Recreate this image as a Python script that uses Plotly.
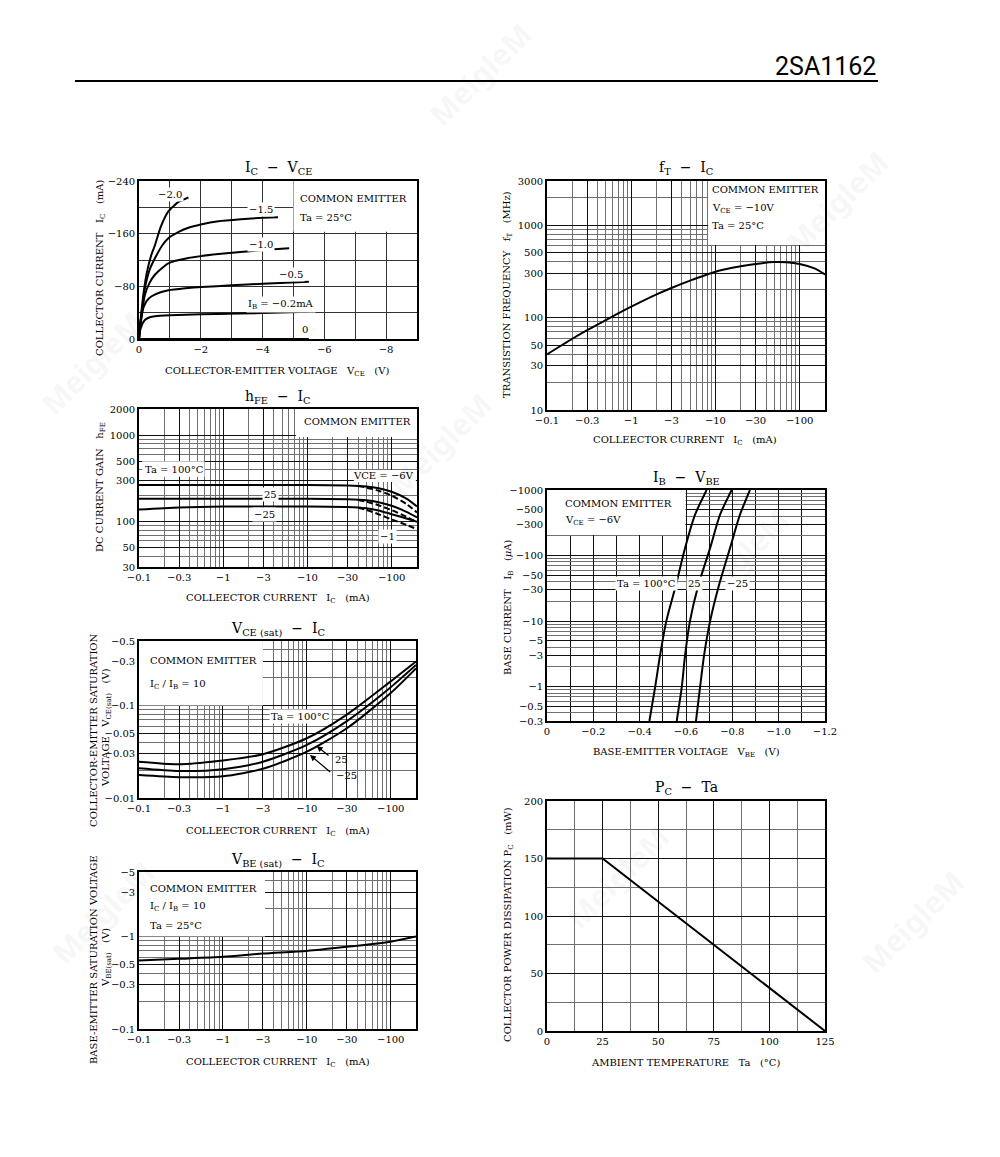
import numpy as np
import plotly.graph_objects as go

W, H = 1000, 1157
FONT = "DejaVu Serif"
NB = "\u00a0"

# ---------------- DATA ----------------
# IC - VCE (Ta = 25 C), parameter IB
vce_ib20 = [0, -0.03, -0.08, -0.14, -0.25, -0.4, -0.52, -0.7, -0.95, -1.27, -1.6]
ic_ib20 = [0, -20, -42, -67, -100, -128, -143, -170, -194, -208, -215]
vce_ib15 = [0, -0.03, -0.1, -0.19, -0.35, -0.52, -0.75, -0.95, -1.3, -1.6, -2.0, -2.57, -3.3, -4.0, -4.5]
ic_ib15 = [0, -18, -45, -77, -106, -123, -142, -153, -163, -169, -174, -179, -182, -184, -185]
vce_ib10 = [0, -0.03, -0.1, -0.19, -0.35, -0.52, -0.75, -0.95, -1.6, -2.57, -4.0, -4.86]
ic_ib10 = [0, -17, -42, -67, -86, -98, -108, -115, -123, -129, -135, -138]
vce_ib05 = [0, -0.03, -0.08, -0.14, -0.25, -0.41, -0.7, -0.95, -1.5, -2.03, -3, -4, -5.5]
ic_ib05 = [0, -15, -32, -47, -58, -65, -71, -74, -77, -79, -81.5, -84, -87]
vce_ib02 = [0, -0.03, -0.1, -0.19, -0.35, -0.52, -1.0, -1.5, -2.5, -4, -5.5]
ic_ib02 = [0, -12, -22, -29, -33, -34.5, -36, -37, -38, -39.5, -41.5]
vce_ib00 = [0, -5.5]
ic_ib00 = [0, 0]

# hFE - IC
hfe_ic = [-0.1, -0.3, -1, -3, -10, -30, -50, -70, -100, -150, -200]
hfe_100_6v = [265, 265, 265, 265, 265, 262, 255, 243, 222, 185, 150]
hfe_25_6v = [184, 184, 184, 184, 184, 182, 177, 168, 153, 130, 112]
hfe_m25_6v = [138, 146, 150, 150, 150, 148, 143, 135, 122, 109, 100]
hfe_ic_1v = [-40, -50, -70, -100, -150, -200]
hfe_100_1v = [258, 248, 228, 200, 160, 128]
hfe_25_1v = [178, 170, 155, 136, 114, 99]
hfe_m25_1v = [145, 137, 122, 106, 92, 82]

# VCE(sat) - IC
vsat_ic = [-0.1, -0.3, -1, -3, -10, -30, -100, -200]
vcesat_100 = [-0.0247, -0.0232, -0.0255, -0.0297, -0.0443, -0.080, -0.183, -0.30]
vcesat_25 = [-0.021, -0.0196, -0.0205, -0.0247, -0.0375, -0.068, -0.158, -0.275]
vcesat_m25 = [-0.0177, -0.0168, -0.0172, -0.0207, -0.0317, -0.0568, -0.137, -0.253]

# VBE(sat) - IC
vbesat_ic = [-0.1, -0.3, -1, -3, -10, -30, -100, -200]
vbesat = [-0.55, -0.575, -0.605, -0.655, -0.70, -0.775, -0.88, -1.0]

# fT - IC
ft_ic = [-0.1, -0.2, -0.3, -0.5, -1, -2, -3, -5, -10, -20, -30, -50, -70, -100, -150, -200]
ft_mhz = [40, 59, 73, 94, 131, 178, 209, 251, 313, 358, 380, 398, 396, 380, 340, 293]

# IB - VBE
ib_ua = [-0.3, -1, -3, -10, -35, -130, -420, -1000]
vbe_100 = [-0.442, -0.467, -0.488, -0.515, -0.556, -0.596, -0.639, -0.689]
vbe_25 = [-0.56, -0.582, -0.596, -0.617, -0.653, -0.704, -0.747, -0.797]
vbe_m25 = [-0.643, -0.661, -0.678, -0.704, -0.742, -0.79, -0.833, -0.876]

# PC - Ta
ta_c = [0, 25, 125]
pc_mw = [150, 150, 0]

# tick labels
vce_ticks = [0, -2, -4, -6, -8]
vce_labels = ["0", "\u22122", "\u22124", "\u22126", "\u22128"]
icv_ticks = [0, -80, -160, -240]
icv_labels = ["0", "\u221280", "\u2212160", "\u2212240"]
ic_ticks = [0.1, 0.3, 1, 3, 10, 30, 100]
ic_labels = ["\u22120.1", "\u22120.3", "\u22121", "\u22123", "\u221210", "\u221230", "\u2212100"]
hfe_ticks = [30, 50, 100, 300, 500, 1000, 2000]
hfe_labels = ["30", "50", "100", "300", "500", "1000", "2000"]
vcesat_ticks = [0.01, 0.03, 0.05, 0.1, 0.3, 0.5]
vcesat_labels = ["\u22120.01", "\u22120.03", "\u22120.05", "\u22120.1", "\u22120.3", "\u22120.5"]
vbesat_ticks = [0.1, 0.3, 0.5, 1, 3, 5]
vbesat_labels = ["\u22120.1", "\u22120.3", "\u22120.5", "\u22121", "\u22123", "\u22125"]
ft_ticks = [10, 30, 50, 100, 300, 500, 1000, 3000]
ft_labels = ["10", "30", "50", "100", "300", "500", "1000", "3000"]
ib_ticks = [0.3, 0.5, 1, 3, 5, 10, 30, 50, 100, 300, 500, 1000]
ib_labels = ["\u22120.3", "\u22120.5", "\u22121", "\u22123", "\u22125", "\u221210", "\u221230",
             "\u221250", "\u2212100", "\u2212300", "\u2212500", "\u22121000"]
vbe_ticks = [0, -0.2, -0.4, -0.6, -0.8, -1.0, -1.2]
vbe_labels = ["0", "\u22120.2", "\u22120.4", "\u22120.6", "\u22120.8", "\u22121.0", "\u22121.2"]
ta_ticks = [0, 25, 50, 75, 100, 125]
ta_labels = ["0", "25", "50", "75", "100", "125"]
pc_ticks = [0, 50, 100, 150, 200]
pc_labels = ["0", "50", "100", "150", "200"]

# ---------------- helpers ----------------
def dx(a, b):
    return [a / W, b / W]

def dy(a, b):
    return [1 - b / H, 1 - a / H]

def log_grid(lo, hi):
    vals = []
    for e in range(int(np.floor(np.log10(lo))) - 1, int(np.ceil(np.log10(hi))) + 1):
        for m in range(1, 10):
            v = m * 10.0 ** e
            if lo * 0.999 <= v <= hi * 1.001:
                vals.append(v)
    return vals

def axis(dom, typ, rng, tv, tt, minor_vals, anchor, gridcolor="#111", minorcolor="#707070"):
    return dict(domain=dom, type=typ, range=rng, tickmode="array", tickvals=tv, ticktext=tt,
                showgrid=True, gridcolor=gridcolor, gridwidth=1, zeroline=False,
                showline=True, linecolor="black", linewidth=1.6, mirror=True, ticks="",
                tickfont=dict(family=FONT, size=10, color="black"), anchor=anchor,
                automargin=False,
                minor=dict(tickmode="array", tickvals=minor_vals, showgrid=True,
                           gridcolor=minorcolor, gridwidth=1, ticks=""),
                fixedrange=True)

fig = go.Figure()

def line(x, y, i, dash="solid", width=2, smoothing=0.7):
    fig.add_trace(go.Scatter(x=x, y=y, xaxis=f"x{i}", yaxis=f"y{i}", mode="lines",
                             line=dict(color="black", width=width, dash=dash, shape="spline", smoothing=smoothing),
                             hoverinfo="skip", showlegend=False))

ab = np.abs
# chart 1
for vx, iy in [(vce_ib20, ic_ib20), (vce_ib15, ic_ib15), (vce_ib10, ic_ib10),
               (vce_ib05, ic_ib05), (vce_ib02, ic_ib02), (vce_ib00, ic_ib00)]:
    line(vx, iy, 1, smoothing=0.5)
# chart 2
for yv in [hfe_100_6v, hfe_25_6v, hfe_m25_6v]:
    line(ab(hfe_ic), yv, 2)
for yv in [hfe_100_1v, hfe_25_1v, hfe_m25_1v]:
    line(ab(hfe_ic_1v), yv, 2, dash="6px,3px")
# chart 3
for yv in [vcesat_100, vcesat_25, vcesat_m25]:
    line(ab(vsat_ic), ab(yv), 3)
# chart 4
line(ab(vbesat_ic), ab(vbesat), 4)
# chart 5
line(ab(ft_ic), ft_mhz, 5)
# chart 6
for xv in [vbe_100, vbe_25, vbe_m25]:
    line(xv, ab(ib_ua), 6)
# chart 7
fig.add_trace(go.Scatter(x=ta_c, y=pc_mw, xaxis="x7", yaxis="y7", mode="lines",
                         line=dict(color="black", width=2), hoverinfo="skip", showlegend=False))

LX = [np.log10(0.1), np.log10(200)]
lay = {}
lay["xaxis1"] = axis(dx(139, 417), "linear", [0, -9], vce_ticks, vce_labels, list(np.arange(-1, -9, -1.0)), "y1", "#333", "#333")
lay["yaxis1"] = axis(dy(181, 339), "linear", [0, -240], icv_ticks, icv_labels, list(np.arange(-40, -240, -40.0)), "x1", "#333", "#333")
lay["xaxis2"] = axis(dx(139, 417), "log", LX, ic_ticks, ic_labels, log_grid(0.1, 200), "y2")
lay["yaxis2"] = axis(dy(409, 567), "log", [np.log10(30), np.log10(2000)], hfe_ticks, hfe_labels, log_grid(30, 2000), "x2")
lay["xaxis3"] = axis(dx(139, 416), "log", LX, ic_ticks, ic_labels, log_grid(0.1, 200), "y3")
lay["yaxis3"] = axis(dy(641, 798), "log", [np.log10(0.01), np.log10(0.5)], vcesat_ticks, vcesat_labels, log_grid(0.01, 0.5), "x3")
lay["xaxis4"] = axis(dx(139, 416), "log", LX, ic_ticks, ic_labels, log_grid(0.1, 200), "y4")
lay["yaxis4"] = axis(dy(872, 1029), "log", [np.log10(0.1), np.log10(5)], vbesat_ticks, vbesat_labels, log_grid(0.1, 5), "x4")
lay["xaxis5"] = axis(dx(547, 825), "log", LX, ic_ticks, ic_labels, log_grid(0.1, 200), "y5")
lay["yaxis5"] = axis(dy(181, 410), "log", [np.log10(10), np.log10(3000)], ft_ticks, ft_labels, log_grid(10, 3000), "x5")
lay["xaxis6"] = axis(dx(547, 825), "linear", [0, -1.2], vbe_ticks, vbe_labels, list(np.arange(-0.1, -1.2, -0.2)), "y6", "#111", "#111")
lay["yaxis6"] = axis(dy(490, 721), "log", [np.log10(0.3), np.log10(1000)], ib_ticks, ib_labels, log_grid(0.3, 1000), "x6")
lay["xaxis7"] = axis(dx(547, 825), "linear", [0, 125], ta_ticks, ta_labels, list(np.arange(12.5, 125, 25.0)), "y7")
lay["yaxis7"] = axis(dy(801, 1031), "linear", [0, 200], pc_ticks, pc_labels, list(np.arange(25, 200, 50.0)), "x7")

# white boxes (behind traces, above grid)
def box(i, x0, x1, y0, y1):
    return dict(type="rect", xref=f"x{i}", yref=f"y{i}", x0=x0, x1=x1, y0=y0, y1=y1,
                fillcolor="white", line=dict(width=0), layer="between")

shapes = [
    box(1, -5.0, -9, -163, -240),
    box(2, 7.3, 200, 950, 2000),
    box(2, 0.109, 0.6, 330, 500),
    box(2, 35.6, 194, 288, 394),
    box(3, 0.1, 3.0, 0.1, 0.5),
    box(4, 0.1, 3.17, 1.0, 5.0),
    box(5, 8.2, 200, 610, 3000),
    box(6, 0, -0.598, 206, 1000),
    dict(type="line", xref="paper", yref="paper", x0=75 / W, x1=878 / W, y0=1 - 81 / H, y1=1 - 81 / H,
         line=dict(color="black", width=2)),
]

anns = []

def A(text, x, y, i, lx=False, ly=False, size=10, xanchor="center", bg=None, **kw):
    d = dict(text=text, x=float(np.log10(x)) if lx else x, y=float(np.log10(y)) if ly else y,
             xref=f"x{i}", yref=f"y{i}", showarrow=False, xanchor=xanchor,
             font=dict(family=FONT, size=size, color="black"))
    if bg:
        d.update(bgcolor=bg, borderpad=1)
    d.update(kw)
    anns.append(d)

def arrow(i, tip, tail):
    anns.append(dict(text="", x=float(np.log10(tip[0])), y=float(np.log10(tip[1])), xref=f"x{i}", yref=f"y{i}",
                     showarrow=True, axref=f"x{i}", ayref=f"y{i}",
                     ax=float(np.log10(tail[0])), ay=float(np.log10(tail[1])),
                     arrowhead=2, arrowsize=1, arrowwidth=1.2, arrowcolor="black"))

def P(text, px, py, size=10, angle=0, xanchor="center", family=FONT, color="black"):
    anns.append(dict(text=text, x=px / W, y=1 - py / H, xref="paper", yref="paper", showarrow=False,
                     textangle=angle, xanchor=xanchor, yanchor="middle",
                     font=dict(family=family, size=size, color=color)))

sp3 = NB * 3
# chart 1 labels
A("\u22122.0", -1.0, -220, 1, bg="white")
A("\u22121.5", -3.95, -196, 1, bg="white")
A("\u22121.0", -3.95, -143, 1, bg="white")
A("\u22120.5", -4.92, -98, 1, bg="white")
A("I<sub>B</sub> = \u22120.2mA", -4.6, -53, 1, bg="white")
A("0", -5.38, -14, 1, bg="white")
A("COMMON EMITTER", -5.15, -214, 1, xanchor="left")
A("Ta = 25\u00b0C", -5.15, -185, 1, xanchor="left")
# chart 2 labels
A("COMMON EMITTER", 8.6, 1450, 2, lx=True, ly=True, xanchor="left")
A("Ta = 100\u00b0C", 0.262, 405, 2, lx=True, ly=True)
A("VCE = \u22126V", 80, 340, 2, lx=True, ly=True)
A("25", 3.6, 207, 2, lx=True, ly=True, bg="white")
A("\u221225", 3.1, 121, 2, lx=True, ly=True, bg="white")
A("\u22121", 89, 68, 2, lx=True, ly=True, bg="white")
# chart 3 labels
A("COMMON EMITTER", 0.129, 0.31, 3, lx=True, ly=True, xanchor="left")
A("I<sub>C</sub> / I<sub>B</sub> = 10", 0.129, 0.17, 3, lx=True, ly=True, xanchor="left")
A("Ta = 100\u00b0C", 8.3, 0.0762, 3, lx=True, ly=True, bg="white")
arrow(3, (13.1, 0.0365), (18.9, 0.028))
arrow(3, (10.9, 0.0292), (19.8, 0.0185))
A("25", 20.5, 0.0262, 3, lx=True, ly=True, xanchor="left")
A("\u221225", 21.0, 0.0177, 3, lx=True, ly=True, xanchor="left")
# chart 4 labels
A("COMMON EMITTER", 0.129, 3.31, 4, lx=True, ly=True, xanchor="left")
A("I<sub>C</sub> / I<sub>B</sub> = 10", 0.129, 2.1, 4, lx=True, ly=True, xanchor="left")
A("Ta = 25\u00b0C", 0.129, 1.33, 4, lx=True, ly=True, xanchor="left")
# chart 5 labels
A("COMMON EMITTER", 8.6, 2400, 5, lx=True, ly=True, xanchor="left")
A("V<sub>CE</sub> = \u221210V", 8.6, 1518, 5, lx=True, ly=True, xanchor="left")
A("Ta = 25\u00b0C", 8.6, 986, 5, lx=True, ly=True, xanchor="left")
# chart 6 labels
A("COMMON EMITTER", -0.069, 625, 6, ly=True, xanchor="left")
A("V<sub>CE</sub> = \u22126V", -0.069, 348, 6, ly=True, xanchor="left")
A("Ta = 100\u00b0C", -0.43, 37.5, 6, ly=True, bg="white")
A("25", -0.637, 37.5, 6, ly=True, bg="white")
A("\u221225", -0.822, 37.5, 6, ly=True, bg="white")

# titles
P("I<sub>C</sub>  \u2212  V<sub>CE</sub>", 278, 168, size=14)
P("h<sub>FE</sub>  \u2212  I<sub>C</sub>", 278, 397, size=14)
P("V<sub>CE (sat)</sub>  \u2212  I<sub>C</sub>", 278, 629, size=14)
P("V<sub>BE (sat)</sub>  \u2212  I<sub>C</sub>", 278, 860, size=14)
P("f<sub>T</sub>  \u2212  I<sub>C</sub>", 686, 168, size=14)
P("I<sub>B</sub>  \u2212  V<sub>BE</sub>", 686, 478, size=14)
P("P<sub>C</sub>  \u2212  Ta", 686, 788, size=14)

# axis titles
P(f"COLLECTOR-EMITTER VOLTAGE{sp3}V<sub>CE</sub>{sp3}(V)", 277, 372)
P(f"COLLECTOR CURRENT{sp3}I<sub>C</sub>{sp3}(mA)", 101, 268, angle=-90)
P(f"COLLEECTOR CURRENT{sp3}I<sub>C</sub>{sp3}(mA)", 278, 598)
P(f"DC CURRENT GAIN{sp3}h<sub>FE</sub>", 101, 487, angle=-90)
P(f"COLLEECTOR CURRENT{sp3}I<sub>C</sub>{sp3}(mA)", 278, 831)
P("COLLECTOR-EMITTER SATURATION", 93, 730, angle=-90)
P(f"VOLTAGE{sp3}V<sub>CE(sat)</sub>{sp3}(V)", 106, 728, angle=-90)
P(f"COLLEECTOR CURRENT{sp3}I<sub>C</sub>{sp3}(mA)", 278, 1062)
P("BASE-EMITTER SATURATION VOLTAGE", 93, 960, angle=-90)
P(f"V<sub>BE(sat)</sub>{sp3}(V)", 106, 958, angle=-90)
P(f"COLLEECTOR CURRENT{sp3}I<sub>C</sub>{sp3}(mA)", 685, 441)
P(f"TRANSISTION FREQUENCY{sp3}f<sub>T</sub>{sp3}(MHz)", 508, 295, angle=-90)
P(f"BASE-EMITTER VOLTAGE{sp3}V<sub>BE</sub>{sp3}(V)", 686, 752)
P(f"BASE CURRENT{sp3}I<sub>B</sub>{sp3}(<i>\u03bc</i>A)", 508, 607, angle=-90)
P(f"AMBIENT TEMPERATURE{sp3}Ta{sp3}(\u00b0C)", 686, 1062)
P(f"COLLECTOR POWER DISSIPATION P<sub>C</sub>{sp3}(mW)", 508, 925, angle=-90)

# header
anns.append(dict(text="2SA1162", x=878 / W, y=1 - 66 / H, xref="paper", yref="paper", showarrow=False,
                 xanchor="right", yanchor="middle",
                 font=dict(family="Liberation Sans Narrow, Roboto, Noto Sans", size=25, color="black")))

# faint watermarks
for (wx, wy) in [(480, 12), (900, 140), (30, 300), (440, 445), (800, 560), (680, 940), (40, 975), (975, 985)]:
    anns.append(dict(text="<b>MeigleM</b>", x=wx / W, y=1 - wy / H, xref="paper", yref="paper",
                     showarrow=False, textangle=-45, font=dict(family="Noto Sans", size=30, color="rgba(0,0,0,0.05)")))

fig.update_layout(width=W, height=H, margin=dict(l=0, r=0, t=0, b=0, autoexpand=False), autosize=False,
                  paper_bgcolor="white", plot_bgcolor="white", showlegend=False,
                  shapes=shapes, annotations=anns, **lay)

fig.write_html("out.html")
